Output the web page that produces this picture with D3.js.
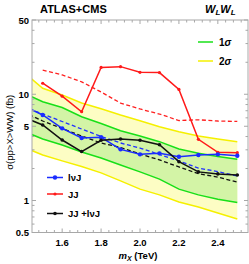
<!DOCTYPE html>
<html>
<head>
<meta charset="utf-8">
<script src="https://cdn.jsdelivr.net/npm/d3@7"></script>
<style>
  body { margin: 0; background: #fff; }
  svg text { font-family: "Liberation Sans", Arial, sans-serif; font-weight: bold; }
</style>
</head>
<body>
<div id="chart"></div>
<script>
// mass points (TeV)
const masses = [1.4, 1.5, 1.6, 1.7, 1.8, 1.9, 2.0, 2.1, 2.2, 2.3, 2.4, 2.5];
const obsMasses = [1.5, 1.6, 1.7, 1.8, 1.9, 2.0, 2.1, 2.2, 2.3, 2.4, 2.5];

// observed limits (fb)
const lvjObs = [6.38, 4.78, 3.88, 3.94, 3.03, 2.72, 2.78, 2.58, 2.68, 2.72, 2.64];
const jjObs = [12.7, 9.6, 6.85, 17.9, 18.2, 16.1, 16.0, 11.1, 3.77, 2.84, 2.82];
const combObs = [5.14, 3.71, 2.89, 3.69, 3.79, 3.69, 3.35, 2.32, 1.86, 1.78, 1.74];
const lvjObsLead = 7.8, combObsLead = 6.1; // value at 1.4, outside the frame

// expected limits (fb)
const jjExp = [null, 16.9, 15.2, 13.1, 10.5, 8.27, 7.27, 6.52, 5.66, 5.75, 5.6, 5.55];
const lvjExp = [7.65, 6.52, 5.54, 4.71, 4.01, 3.48, 3.12, 2.71, 2.36, 2.02, 1.87, 1.70];
const combExp = [6.81, 5.6, 4.76, 4.05, 3.48, 3.16, 2.74, 2.41, 2.07, 1.79, 1.66, 1.49];

// bands on the combined expected limit
const band2Up = [16.2, 11.38, 9.84, 8.27, 7.3, 6.38, 5.64, 4.95, 4.44, 4.05, 3.79, 3.58];
const band1Up = [10.3, 8.51, 7.51, 6.15, 5.31, 4.54, 4.05, 3.58, 3.05, 2.78, 2.60, 2.44];
const band1Dn = [4.51, 3.79, 3.33, 2.86, 2.51, 2.16, 1.86, 1.59, 1.28, 1.13, 1.03, 0.958];
const band2Dn = [3.19, 2.68, 2.36, 2.09, 1.82, 1.53, 1.28, 1.13, 0.968, 0.869, 0.763, 0.670];

const xTicks = [1.6, 1.8, 2.0, 2.2, 2.4];
const yTicks = [0.5, 1, 5, 10, 50];

const width = 249, height = 264;
const frame = {left: 32, right: 248, top: 20, bottom: 232.5};

const x = d3.scaleLinear().domain([1.445, 2.555]).range([frame.left, frame.right]);
const y = d3.scaleLog().domain([0.5, 50]).range([frame.bottom, frame.top]);

const svg = d3.select('#chart').append('svg')
    .attr('width', width)
    .attr('height', height);

svg.append('defs').append('clipPath')
    .attr('id', 'frame-clip')
  .append('rect')
    .attr('x', frame.left).attr('y', frame.top)
    .attr('width', frame.right - frame.left).attr('height', frame.bottom - frame.top);

const plot = svg.append('g').attr('clip-path', 'url(#frame-clip)');

// bands
const area = (lo, hi) => d3.area()
    .x((d, i) => x(masses[i]))
    .y0((d, i) => y(lo[i]))
    .y1((d, i) => y(hi[i]));

plot.append('path').datum(masses)
    .attr('fill', '#fdfdc4')
    .attr('d', area(band2Dn, band2Up));
plot.append('path').datum(masses)
    .attr('fill', '#d3f4a6')
    .attr('d', area(band1Dn, band1Up));

const line = d3.line()
    .defined(d => d[1] != null)
    .x(d => x(d[0]))
    .y(d => y(d[1]));

const pairs = (xs, ys) => xs.map((m, i) => [m, ys[i]]);

[[band2Up, '#f5f000'], [band2Dn, '#f5f000'], [band1Up, '#18e018'], [band1Dn, '#18e018']]
  .forEach(([vals, col]) => {
    plot.append('path')
        .datum(pairs(masses, vals))
        .attr('fill', 'none')
        .attr('stroke', col)
        .attr('stroke-width', 1.5)
        .attr('d', line);
  });

// expected (dashed)
[[jjExp, '#ff2020'], [lvjExp, '#2030ff'], [combExp, '#111']].forEach(([vals, col]) => {
  plot.append('path')
      .datum(pairs(masses, vals))
      .attr('fill', 'none')
      .attr('stroke', col)
      .attr('stroke-width', 1.3)
      .attr('stroke-dasharray', '4,2.5')
      .attr('d', line);
});

// observed (solid with markers)
const observed = [
  { vals: jjObs, lead: null, col: '#ff1a1a', r: 1.6 },
  { vals: lvjObs, lead: lvjObsLead, col: '#1a2cff', r: 2.2 },
  { vals: combObs, lead: combObsLead, col: '#111', r: 1.8 }
];
observed.forEach(s => {
  let pts = pairs(obsMasses, s.vals);
  if (s.lead != null) pts = [[1.4, s.lead], ...pts];
  plot.append('path')
      .datum(pts)
      .attr('fill', 'none')
      .attr('stroke', s.col)
      .attr('stroke-width', 1.5)
      .attr('d', line);
  plot.append('g').selectAll('circle')
      .data(pairs(obsMasses, s.vals))
      .join('circle')
        .attr('cx', d => x(d[0]))
        .attr('cy', d => y(d[1]))
        .attr('r', s.r)
        .attr('fill', s.col);
});

// frame
svg.append('rect')
    .attr('x', frame.left).attr('y', frame.top)
    .attr('width', frame.right - frame.left).attr('height', frame.bottom - frame.top)
    .attr('fill', 'none')
    .attr('stroke', '#a8a8a8')
    .attr('stroke-width', 1);

// ticks (inward, on all four sides)
const tickG = svg.append('g').attr('stroke', '#a8a8a8').attr('stroke-width', 1);
const xMinor = d3.range(1.48, 2.56, 0.04).map(v => +v.toFixed(2));
xMinor.forEach(v => {
  const major = xTicks.some(t => Math.abs(t - v) < 1e-6);
  const len = major ? 4 : 2.5;
  tickG.append('line').attr('x1', x(v)).attr('x2', x(v)).attr('y1', frame.bottom).attr('y2', frame.bottom - len);
  tickG.append('line').attr('x1', x(v)).attr('x2', x(v)).attr('y1', frame.top).attr('y2', frame.top + len);
});
const yMinor = [];
[0.1, 1, 10].forEach(dec => d3.range(1, 10).forEach(k => yMinor.push(+(k * dec).toFixed(2))));
yMinor.filter(v => v >= 0.5 && v <= 50).forEach(v => {
  const major = yTicks.includes(v);
  const len = major ? 4 : 2.5;
  tickG.append('line').attr('x1', frame.left).attr('x2', frame.left + len).attr('y1', y(v)).attr('y2', y(v));
  tickG.append('line').attr('x1', frame.right).attr('x2', frame.right - len).attr('y1', y(v)).attr('y2', y(v));
});

// tick labels
svg.append('g').selectAll('text')
  .data(xTicks)
  .join('text')
    .attr('x', d => x(d))
    .attr('y', frame.bottom + 13)
    .attr('text-anchor', 'middle')
    .attr('font-size', 9.5)
    .text(d => d3.format('.1f')(d));

svg.append('g').selectAll('text')
  .data(yTicks)
  .join('text')
    .attr('x', frame.left - 3)
    .attr('y', d => y(d) + 3.5)
    .attr('text-anchor', 'end')
    .attr('font-size', 9.5)
    .text(d => d);

// axis titles
const xl = svg.append('text')
    .attr('x', 138)
    .attr('y', 259)
    .attr('text-anchor', 'middle')
    .attr('font-size', 9.5);
xl.append('tspan').attr('font-style', 'italic').text('m');
xl.append('tspan').attr('font-style', 'italic').attr('font-size', 7).attr('dy', 2).text('X');
xl.append('tspan').attr('dy', -2).text(' (TeV)');

svg.append('text')
    .attr('transform', 'translate(13,' + ((frame.top + frame.bottom) / 2 + 6) + ') rotate(-90)')
    .attr('text-anchor', 'middle')
    .attr('font-size', 9.5)
    .style('font-weight', 'normal')
    .text('σ(pp>X>WW) (fb)');

// titles
svg.append('text')
    .attr('x', 40).attr('y', 13)
    .attr('font-size', 11)
    .text('ATLAS+CMS');

const wl = svg.append('text')
    .attr('x', 205).attr('y', 13)
    .attr('font-size', 11)
    .attr('font-style', 'italic');
wl.append('tspan').text('W');
wl.append('tspan').attr('font-size', 8).attr('dy', 2).text('L');
wl.append('tspan').attr('dy', -2).text('W');
wl.append('tspan').attr('font-size', 8).attr('dy', 2).text('L');

// band legend
[['1σ', '#18e018', 42], ['2σ', '#f5f000', 61]].forEach(([lab, col, yy]) => {
  svg.append('line')
      .attr('x1', 198).attr('x2', 213)
      .attr('y1', yy).attr('y2', yy)
      .attr('stroke', col).attr('stroke-width', 1.5);
  const t = svg.append('text').attr('x', 219).attr('y', yy + 3.5).attr('font-size', 10);
  t.append('tspan').text(lab[0]);
  t.append('tspan').attr('font-style', 'italic').text(lab[1]);
});

// series legend
[['lνJ', '#1a2cff', 177.5, 2.2], ['JJ', '#ff1a1a', 194, 1.6], ['JJ +lνJ', '#111', 213.5, 1.8]]
  .forEach(([lab, col, yy, r]) => {
    svg.append('line')
        .attr('x1', 47).attr('x2', 63)
        .attr('y1', yy).attr('y2', yy)
        .attr('stroke', col).attr('stroke-width', 1.5);
    svg.append('circle')
        .attr('cx', 55).attr('cy', yy).attr('r', r).attr('fill', col);
    svg.append('text')
        .attr('x', 68).attr('y', yy + 3.5)
        .attr('font-size', 9.5)
        .text(lab);
  });
</script>
</body>
</html>
